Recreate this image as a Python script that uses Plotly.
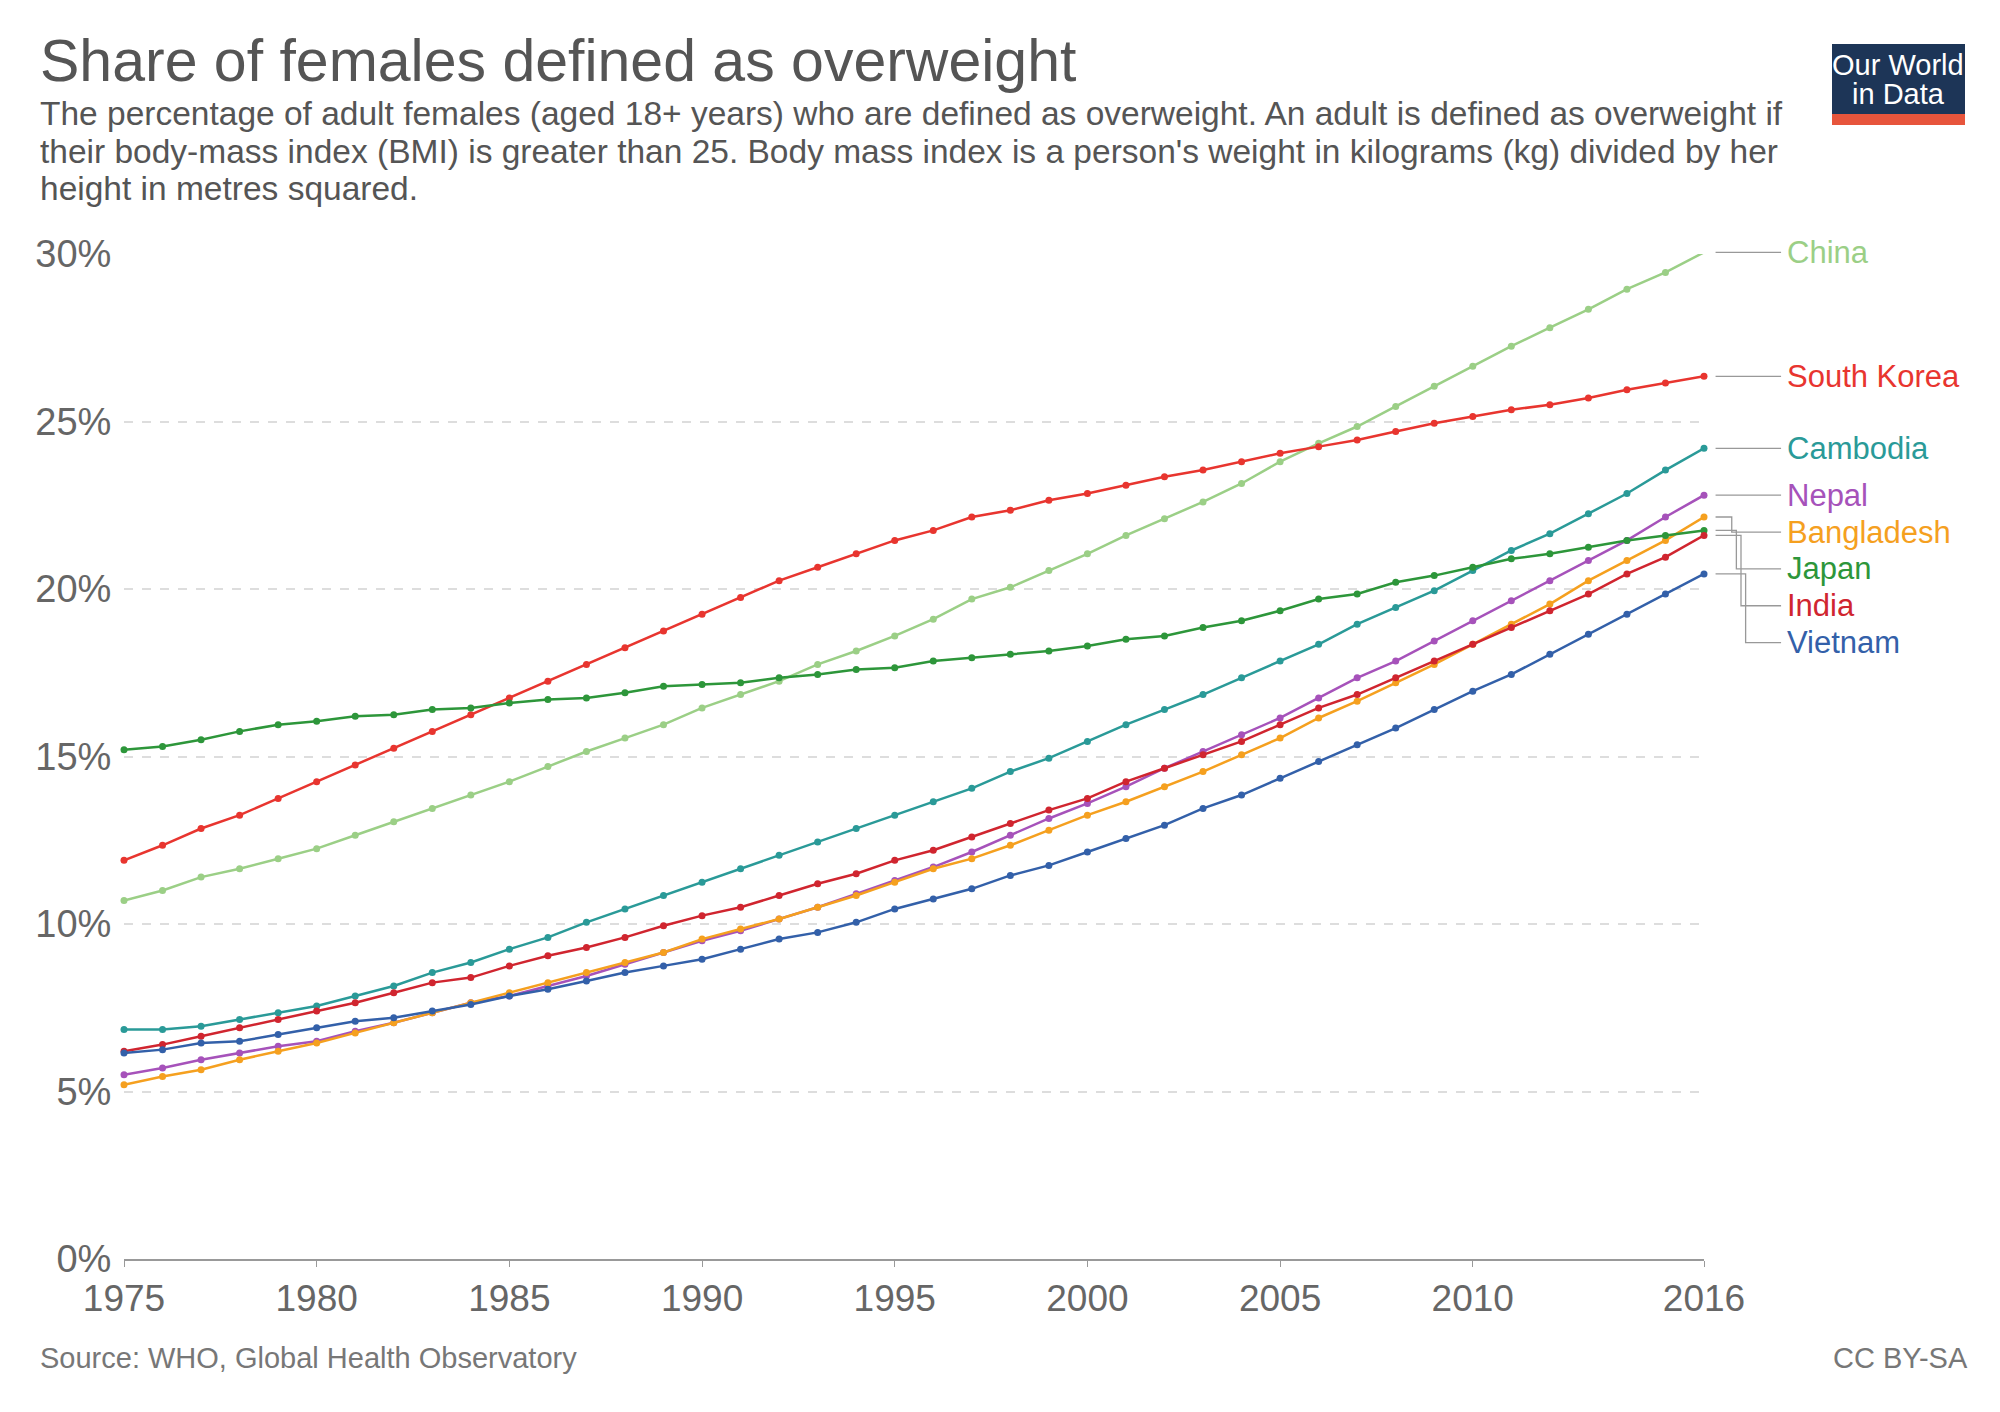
import plotly.graph_objects as go

years = list(range(1975, 2017))

china = [10.7, 11.0, 11.4, 11.65, 11.95, 12.25, 12.65, 13.05, 13.45, 13.85, 14.25, 14.7, 15.15, 15.55,
         15.95, 16.45, 16.85, 17.25, 17.75, 18.15, 18.6, 19.1, 19.7, 20.05, 20.55, 21.05, 21.6, 22.1,
         22.6, 23.15, 23.8, 24.35, 24.85, 25.45, 26.05, 26.65, 27.25, 27.8, 28.35, 28.95, 29.45, 30.05]
south_korea = [11.9, 12.35, 12.85, 13.25, 13.75, 14.25, 14.75, 15.25, 15.75, 16.25, 16.75, 17.25, 17.75,
               18.25, 18.75, 19.25, 19.75, 20.25, 20.65, 21.05, 21.45, 21.75, 22.15, 22.35, 22.65, 22.85,
               23.1, 23.35, 23.55, 23.8, 24.05, 24.25, 24.45, 24.7, 24.95, 25.15, 25.35, 25.5, 25.7,
               25.95, 26.15, 26.35]
cambodia = [6.85, 6.85, 6.95, 7.15, 7.35, 7.55, 7.85, 8.15, 8.55, 8.85, 9.25, 9.6, 10.05, 10.45, 10.85,
            11.25, 11.65, 12.05, 12.45, 12.85, 13.25, 13.65, 14.05, 14.55, 14.95, 15.45, 15.95, 16.4,
            16.85, 17.35, 17.85, 18.35, 18.95, 19.45, 19.95, 20.55, 21.15, 21.65, 22.25, 22.85, 23.55, 24.2]
nepal = [5.5, 5.7, 5.95, 6.15, 6.35, 6.5, 6.8, 7.05, 7.35, 7.65, 7.85, 8.15, 8.45, 8.8, 9.15, 9.5, 9.8,
         10.15, 10.5, 10.9, 11.3, 11.7, 12.15, 12.65, 13.15, 13.6, 14.1, 14.65, 15.15, 15.65, 16.15,
         16.75, 17.35, 17.85, 18.45, 19.05, 19.65, 20.25, 20.85, 21.45, 22.15, 22.8]
bangladesh = [5.2, 5.45, 5.65, 5.95, 6.2, 6.45, 6.75, 7.05, 7.35, 7.65, 7.95, 8.25, 8.55, 8.85, 9.15,
              9.55, 9.85, 10.15, 10.5, 10.85, 11.25, 11.65, 11.95, 12.35, 12.8, 13.25, 13.65, 14.1,
              14.55, 15.05, 15.55, 16.15, 16.65, 17.2, 17.75, 18.35, 18.95, 19.55, 20.25, 20.85, 21.45, 22.15]
japan = [15.2, 15.3, 15.5, 15.75, 15.95, 16.05, 16.2, 16.25, 16.4, 16.45, 16.6, 16.7, 16.75, 16.9, 17.1,
         17.15, 17.2, 17.35, 17.45, 17.6, 17.65, 17.85, 17.95, 18.05, 18.15, 18.3, 18.5, 18.6, 18.85,
         19.05, 19.35, 19.7, 19.85, 20.2, 20.4, 20.65, 20.9, 21.05, 21.25, 21.45, 21.6, 21.75]
india = [6.2, 6.4, 6.65, 6.9, 7.15, 7.4, 7.65, 7.95, 8.25, 8.4, 8.75, 9.05, 9.3, 9.6, 9.95, 10.25, 10.5,
         10.85, 11.2, 11.5, 11.9, 12.2, 12.6, 13.0, 13.4, 13.75, 14.25, 14.65, 15.05, 15.45, 15.95,
         16.45, 16.85, 17.35, 17.85, 18.35, 18.85, 19.35, 19.85, 20.45, 20.95, 21.6]
vietnam = [6.15, 6.25, 6.45, 6.5, 6.7, 6.9, 7.1, 7.2, 7.4, 7.6, 7.85, 8.05, 8.3, 8.55, 8.75, 8.95, 9.25,
           9.55, 9.75, 10.05, 10.45, 10.75, 11.05, 11.45, 11.75, 12.15, 12.55, 12.95, 13.45, 13.85,
           14.35, 14.85, 15.35, 15.85, 16.4, 16.95, 17.45, 18.05, 18.65, 19.25, 19.85, 20.45]

countries = ["China", "South Korea", "Cambodia", "Nepal", "Bangladesh", "Japan", "India", "Vietnam"]
series = [china, south_korea, cambodia, nepal, bangladesh, japan, india, vietnam]
colors = ["#9bcf86", "#e8352f", "#2a9a98", "#a652ba", "#f5a01f", "#2d963a", "#d0252f", "#3360a9"]
# where the labels sit (in % units) after de-overlapping
label_y = [30.05, 26.35, 24.2, 22.8, 21.7, 20.6, 19.5, 18.4]

y_ticks = [0, 5, 10, 15, 20, 25, 30]
y_labels = [f"{v}%" for v in y_ticks]
x_ticks = [1975, 1980, 1985, 1990, 1995, 2000, 2005, 2010, 2016]
subtitle = [
    "The percentage of adult females (aged 18+ years) who are defined as overweight. An adult is defined as overweight if",
    "their body-mass index (BMI) is greater than 25. Body mass index is a person's weight in kilograms (kg) divided by her",
    "height in metres squared.",
]

FONT = "Liberation Sans"
W, H = 2000, 1412
ML, MR, MT, MB = 116, 304, 246, 161
PW, PH = W - ML - MR, H - MT - MB
Y_MAX = 30


def xp(px_):  # page pixel -> paper x
    return (px_ - ML) / PW


def yp(px_):  # page pixel (from top) -> paper y
    return (H - MB - px_) / PH


def yr(yr_):
    return (yr_ - 1975) / 41


fig = go.Figure()
for name, vals, col in zip(countries, series, colors):
    fig.add_trace(go.Scatter(x=years, y=vals, mode="lines+markers", name=name,
                             line=dict(color=col, width=2.5), marker=dict(size=7, color=col),
                             cliponaxis=False))

for i, (name, vals, col) in enumerate(zip(countries, series, colors)):
    end = vals[-1] / Y_MAX
    ly = label_y[i] / Y_MAX
    elbow = 2016.6 + 0.12 * max(0, i - 3)
    if abs(ly - end) < 0.005:
        path = f"M {yr(2016.3)},{end} L {yr(2018.0)},{end}"
    else:
        path = (f"M {yr(2016.3)},{end} L {yr(elbow)},{end} L {yr(elbow)},{ly} "
                f"L {yr(2018.0)},{ly}")
    fig.add_shape(type="path", path=path, xref="paper", yref="paper",
                  line=dict(color="#999999", width=1.3))
    fig.add_annotation(x=yr(2018.1), y=ly, xref="paper", yref="paper", text=name, showarrow=False,
                       xanchor="left", yanchor="middle", font=dict(size=31, color=col, family=FONT))

fig.add_annotation(x=xp(30), y=yp(53), xref="paper", yref="paper", xanchor="left", yanchor="middle",
                   text="Share of females defined as overweight", showarrow=False,
                   font=dict(size=59, color="#555555", family=FONT))
for k, line in enumerate(subtitle):
    fig.add_annotation(x=xp(30), y=yp(106 + 37 * k), xref="paper", yref="paper", xanchor="left",
                       yanchor="middle", text=line, showarrow=False,
                       font=dict(size=33.5, color="#555555", family=FONT))
fig.add_annotation(x=xp(30), y=yp(1350), xref="paper", yref="paper", xanchor="left", yanchor="middle",
                   text="Source: WHO, Global Health Observatory", showarrow=False,
                   font=dict(size=29, color="#777777", family=FONT))
fig.add_annotation(x=xp(1962), y=yp(1350), xref="paper", yref="paper", xanchor="right", yanchor="middle",
                   text="CC BY-SA", showarrow=False,
                   font=dict(size=29, color="#777777", family=FONT))

# logo
fig.add_shape(type="rect", xref="paper", yref="paper", x0=xp(1824), x1=xp(1957),
              y0=yp(106), y1=yp(36), fillcolor="#1d3557", line_width=0, layer="above")
fig.add_shape(type="rect", xref="paper", yref="paper", x0=xp(1824), x1=xp(1957),
              y0=yp(117), y1=yp(106), fillcolor="#e7553c", line_width=0, layer="above")
for txt, ty in [("Our World", 57), ("in Data", 86)]:
    fig.add_annotation(x=xp(1890), y=yp(ty), xref="paper", yref="paper", xanchor="center",
                       yanchor="middle", text=txt, showarrow=False,
                       font=dict(size=29, color="white", family=FONT))

fig.update_layout(
    width=W, height=H,
    paper_bgcolor="white", plot_bgcolor="white",
    margin=dict(l=ML, r=MR, t=MT, b=MB),
    showlegend=False,
    font=dict(family=FONT, color="#666666"),
    xaxis=dict(range=[1975, 2016], tickvals=x_ticks,
               showgrid=False, showline=True, linecolor="#999999", linewidth=1.5,
               ticks="outside", tickcolor="#999999", ticklen=6,
               tickfont=dict(size=37, color="#666666"), zeroline=False),
    yaxis=dict(range=[0, Y_MAX], tickvals=y_ticks, ticktext=y_labels,
               showgrid=True, gridcolor="#dddddd", griddash="dash", gridwidth=1.5,
               tickfont=dict(size=38, color="#666666"), zeroline=False, ticklen=4, ticks="outside",
               tickcolor="rgba(0,0,0,0)"),
)

fig.write_html("out.html")
